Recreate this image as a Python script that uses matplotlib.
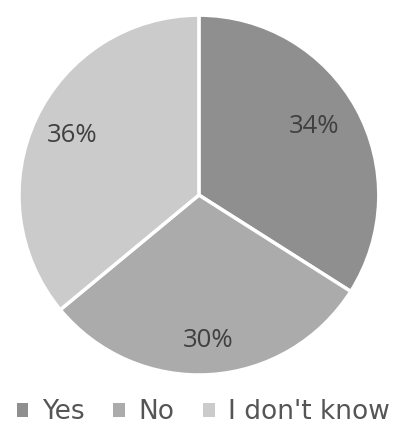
import matplotlib.pyplot as plt

plt.rcParams['font.family'] = ['Open Sans', 'DejaVu Sans']

labels = ['Yes', 'No', "I don't know"]
values = [34, 30, 36]
colors = ['#8f8f8f', '#ababab', '#cbcbcb']

fig = plt.figure(figsize=(3.95, 4.32), dpi=100)
ax = fig.add_axes([0.048, 0.132, 0.911, 0.833])

wedges, texts = ax.pie(values, colors=colors, startangle=90, counterclock=False,
                       labels=[f'{v}%' for v in values], labeldistance=0.78,
                       wedgeprops=dict(edgecolor='white', linewidth=2.5),
                       textprops=dict(color='#404040', fontsize=18.5, ha='center', va='center'))
texts[0].set_position((0.64, 0.38))
texts[1].set_position((0.05, -0.81))
ax.set_aspect('auto')
ax.set_xlim(-1, 1)
ax.set_ylim(-1, 1)

leg = fig.legend(wedges, labels, loc='center', bbox_to_anchor=(0.515, 0.046), ncol=3,
                 frameon=False, prop=dict(family='DejaVu Sans', size=19), labelcolor='#555555',
                 handlelength=0.45, handleheight=0.45, handletextpad=0.5, columnspacing=1.1)
for h in leg.legend_handles:
    h.set_linewidth(0)

fig.savefig('out.png', dpi=100)
